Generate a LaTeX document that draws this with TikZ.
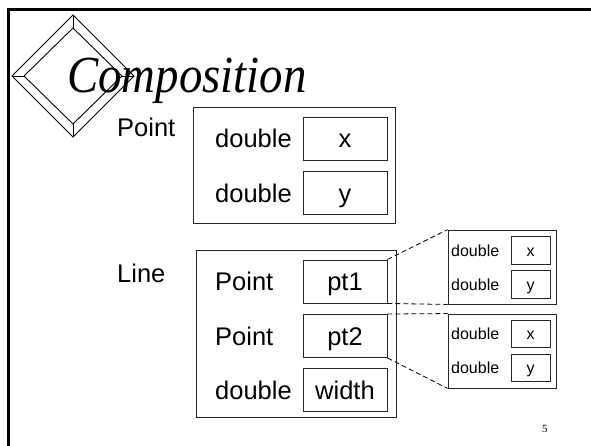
\documentclass[tikz,border=0pt]{standalone}
\usepackage{fontspec}
\setmainfont{Liberation Serif}
\setsansfont{Liberation Sans}
\begin{document}
\begin{tikzpicture}[x=1pt,y=-1pt,
  bigfont/.style={font=\sffamily\fontsize{25.5}{28}\selectfont, text height=18.3pt, text depth=0pt},
  smallfont/.style={font=\sffamily\fontsize{16}{18}\selectfont, text height=11.5pt, text depth=0pt},
  cell/.style={draw=black!85, line width=0.9pt, inner sep=0pt},
  bigcell/.style={cell, bigfont, minimum width=84pt, minimum height=43pt},
  smallcell/.style={cell, smallfont, minimum width=39pt, minimum height=27.5pt},
  container/.style={draw=black!85, line width=0.9pt, inner sep=0pt},
  lbl/.style={inner sep=0pt, anchor=west},
  link/.style={draw=black, line width=0.8pt, dash pattern=on 5pt off 3pt},
  deco/.style={draw=black, line width=0.9pt, line join=miter}
]
\useasboundingbox (0,0) rectangle (591,446);
% page frame (only left and top edges visible)
\draw[line width=3pt, line cap=rect] (8.5,450) -- (8.5,10) -- (595,10);
% decorative diamond
\coordinate (ol) at (12,76); \coordinate (ot) at (73,15); \coordinate (or) at (134,76); \coordinate (ob) at (73,137);
\coordinate (il) at (24,76); \coordinate (it) at (73,28); \coordinate (ir) at (122,76); \coordinate (ib) at (73,124);
\draw[deco] (ol) -- (ot) -- (or) -- (ob) -- cycle;
\draw[deco] (il) -- (it) -- (ir) -- (ib) -- cycle;
\draw[deco] (ol) -- (il) (ot) -- (it) (or) -- (ir) (ob) -- (ib);
% title
\node[anchor=base west, inner sep=0pt, font=\itshape\fontsize{52}{60}\selectfont] (title) at (67,93) {\scalebox{0.9}[1]{Composition}};
% Point class
\node[lbl, bigfont, anchor=base west] (pointlbl) at (117,137) {Point};
\node[container, minimum width=202pt, minimum height=116pt] (pointbox) at (294,165) {};
\node[bigcell] (px) at (345,138.5) {x};
\node[bigcell] (py) at (345,193) {y};
\node[lbl, bigfont] (pd1) at (215,138.5) {double};
\node[lbl, bigfont] (pd2) at (215,193) {double};
% Line class
\node[lbl, bigfont, anchor=base west] (linelbl) at (117,282) {Line};
\node[container, minimum width=200pt, minimum height=167pt] (linebox) at (296,333.5) {};
\node[bigcell] (pt1) at (345,281.5) {pt1};
\node[bigcell] (pt2) at (345,336) {pt2};
\node[bigcell] (wd) at (345,390) {width};
\node[lbl, bigfont] (lp1) at (215,281.5) {Point};
\node[lbl, bigfont] (lp2) at (215,336) {Point};
\node[lbl, bigfont] (ld) at (215,390) {double};
% expanded points
\node[container, minimum width=108pt, minimum height=74pt] (ex1) at (502,267) {};
\node[smallcell] (e1x) at (530.5,250.5) {x};
\node[smallcell] (e1y) at (530.5,284.5) {y};
\node[lbl, smallfont] (e1d1) at (451,250.5) {double};
\node[lbl, smallfont] (e1d2) at (451,284.5) {double};
\node[container, minimum width=108pt, minimum height=74pt] (ex2) at (502,351) {};
\node[smallcell] (e2x) at (530.5,334) {x};
\node[smallcell] (e2y) at (530.5,368) {y};
\node[lbl, smallfont] (e2d1) at (451,334) {double};
\node[lbl, smallfont] (e2d2) at (451,368) {double};
% dashed zoom connectors
\draw[link] (pt1.north east) -- (ex1.north west);
\draw[link] (pt1.south east) -- (ex1.south west);
\draw[link] (pt2.north east) -- (ex2.north west);
\draw[link] (pt2.south east) -- (ex2.south west);
% page number
\node[anchor=base west, inner sep=0pt, font=\fontsize{11}{12}\selectfont] (pagenum) at (542,432) {5};
\end{tikzpicture}
\end{document}
